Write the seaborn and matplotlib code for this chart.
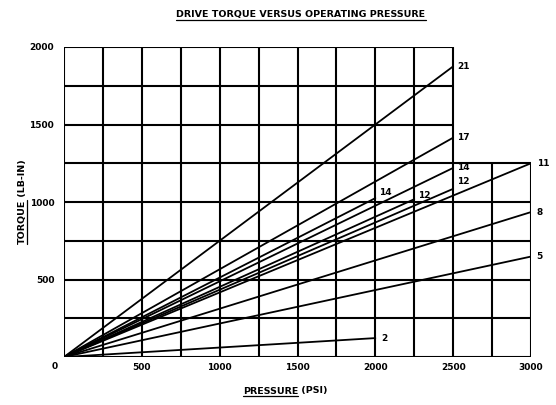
import matplotlib
matplotlib.use("Agg")
import matplotlib.pyplot as plt
from matplotlib.lines import Line2D
import seaborn as sns
import pandas as pd

# end points of each torque line (all start at the origin)
labels = ["21", "17", "14", "12", "14", "12", "11", "8", "5", "2"]
end_psi = [2500, 2500, 2500, 2500, 2000, 2250, 3000, 3000, 3000, 2000]
end_torque = [1875, 1415, 1220, 1085, 1025, 1018, 1250, 935, 648, 122]
# label offsets in points (dx, dy)
label_offsets = [(3, 0), (3, 0), (3, 0), (3, 5), (3, 4), (3, 3), (4, 0), (4, 0), (4, 0), (4, 0)]

x_ticks = [0, 500, 1000, 1500, 2000, 2500, 3000]
y_ticks = [500, 1000, 1500, 2000]
grid_step = 250

rows = []
for i, (lab, xe, ye) in enumerate(zip(labels, end_psi, end_torque)):
    rows.append({"line": i, "Pressure": 0, "Torque": 0})
    rows.append({"line": i, "Pressure": xe, "Torque": ye})
df = pd.DataFrame(rows)

sns.set_theme(style="white")
plt.rcParams["font.family"] = ["DejaVu Sans"]
plt.rcParams["text.color"] = "black"
plt.rcParams["xtick.color"] = "black"
plt.rcParams["ytick.color"] = "black"

fig = plt.figure(figsize=(5.56, 4.05), dpi=100)
ax = fig.add_axes([64 / 556, 48 / 405, 467 / 556, 310 / 405])

# L-shaped grid: full width up to 1250, only to 2500 above that
grid_kw = dict(color="black", linewidth=1.5, zorder=1)
for gx in range(0, 3001, grid_step):
    top = 2000 if gx <= 2500 else 1250
    ax.vlines(gx, 0, top, **grid_kw)
for gy in range(0, 2001, grid_step):
    right = 3000 if gy <= 1250 else 2500
    ax.hlines(gy, 0, right, **grid_kw)

sns.lineplot(data=df, x="Pressure", y="Torque", units="line", estimator=None,
             color="black", linewidth=1.3, legend=False, ax=ax, zorder=2)

for lab, xe, ye, off in zip(labels, end_psi, end_torque, label_offsets):
    ax.annotate(lab, (xe, ye), xytext=off, textcoords="offset points",
                ha="left", va="center", fontsize=6.5, fontweight="bold",
                color="black")

ax.set_xlim(0, 3000)
ax.set_ylim(0, 2000)
for s in ax.spines.values():
    s.set_visible(False)
ax.set_xticks(x_ticks)
ax.set_xticklabels(["" if t == 0 else str(t) for t in x_ticks],
                   fontsize=6.5, fontweight="bold", color="black")
ax.set_yticks(y_ticks)
ax.set_yticklabels([str(t) for t in y_ticks], fontsize=6.5, fontweight="bold",
                   color="black")
ax.tick_params(axis="x", length=0, pad=4)
ax.tick_params(axis="y", length=0, pad=7)
# shared origin label sits below-left of the corner
ax.text(-60, -64, "0", ha="center", va="center", fontsize=6.5, fontweight="bold",
        color="black", clip_on=False)
ax.set_xlabel("")
ax.set_ylabel("")

txt = dict(fontsize=6.8, fontweight="bold", color="black")
title = fig.text(301 / 556, 1 - 15 / 405, "DRIVE TORQUE VERSUS OPERATING PRESSURE",
                 ha="center", va="center", **txt)
# x label: underlined word + plain part
xl_u = fig.text(298 / 556, 1 - 391 / 405, "PRESSURE", ha="right", va="center", **txt)
xl_r = fig.text(298 / 556, 1 - 391 / 405, " (PSI)", ha="left", va="center", **txt)
yl_u = fig.text(22 / 556, 1 - 200 / 405, "TORQUE", ha="center", va="top",
                rotation=90, **txt)
yl_r = fig.text(22 / 556, 1 - 200 / 405, " (LB-IN)", ha="center", va="bottom",
                rotation=90, **txt)

# underline helper, using rendered text extents
fig.canvas.draw()
renderer = fig.canvas.get_renderer()
inv = fig.transFigure.inverted()


def underline(t, vertical=False):
    bb = t.get_window_extent(renderer)
    (x0, y0), (x1, y1) = inv.transform([(bb.x0, bb.y0), (bb.x1, bb.y1)])
    if vertical:
        xs, ys = [x1 + 0.5 / 556, x1 + 0.5 / 556], [y0, y1]
    else:
        xs, ys = [x0, x1], [y0 - 0.5 / 405, y0 - 0.5 / 405]
    fig.add_artist(Line2D(xs, ys, color="black", linewidth=0.9,
                          transform=fig.transFigure))


underline(title)
underline(xl_u)
underline(yl_u, vertical=True)

fig.savefig("out.png", dpi=100)
